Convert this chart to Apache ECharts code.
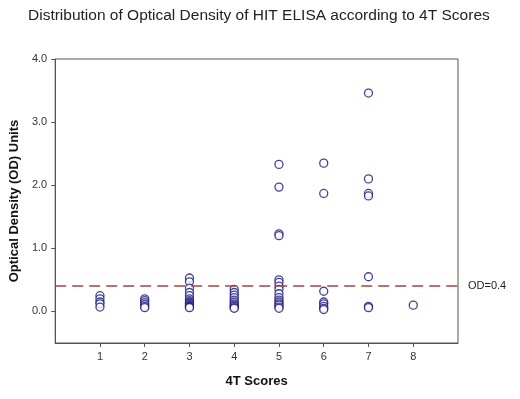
<!DOCTYPE html>
<html>
<head>
<meta charset="utf-8">
<script src="https://cdn.jsdelivr.net/npm/echarts@6/dist/echarts.min.js"></script>
<style>
  html, body { margin: 0; padding: 0; background: #fff; }
  #chart { width: 520px; height: 399px; }
</style>
</head>
<body>
<div id="chart"></div>
<script>
// 4T score groups and the OD values
const scores = [1, 2, 3, 4, 5, 6, 7, 8];
const od1 = [0.25, 0.2, 0.15, 0.12, 0.07];
const od2 = [0.2, 0.17, 0.14, 0.11, 0.08, 0.06];
const od3 = [0.53, 0.47, 0.37, 0.3, 0.25, 0.2, 0.17, 0.15, 0.13, 0.11, 0.09, 0.08, 0.07, 0.06];
const od4 = [0.35, 0.3, 0.26, 0.22, 0.18, 0.15, 0.12, 0.1, 0.08, 0.06, 0.05];
const od5 = [2.33, 1.97, 1.23, 1.2, 0.5, 0.46, 0.4, 0.35, 0.28, 0.22, 0.18, 0.15, 0.12, 0.1, 0.07, 0.05];
const od6 = [2.35, 1.87, 0.32, 0.15, 0.12, 0.08, 0.05, 0.03];
const od7 = [3.46, 2.1, 1.87, 1.83, 0.55, 0.08, 0.06];
const od8 = [0.1];
const yTicks = [0, 1, 2, 3, 4];
const cutoff = 0.4;

const groups = [od1, od2, od3, od4, od5, od6, od7, od8];
const points = [];
groups.forEach((vals, i) => {
  vals.forEach((v) => points.push([scores[i], v]));
});

const font = 'Arial, "Liberation Sans", sans-serif';
const chart = echarts.init(document.getElementById('chart'));

const option = {
  animation: false,
  title: {
    text: 'Distribution of Optical Density of HIT ELISA according to 4T Scores',
    left: 23,
    top: 3,
    textStyle: {
      color: '#222',
      fontFamily: font,
      fontSize: 15.5,
      fontWeight: 'normal',
    },
  },
  grid: {
    left: 53,
    right: 62,
    top: 59,
    bottom: 56,
    show: true,
    borderColor: '#555',
    borderWidth: 1,
  },
  xAxis: {
    type: 'value',
    min: 0,
    max: 9,
    name: '4T Scores',
    nameLocation: 'middle',
    nameGap: 32,
    nameTextStyle: { color: '#111', fontFamily: font, fontSize: 13, fontWeight: 'bold' },
    axisLine: { show: true, onZero: false, lineStyle: { color: '#555' } },
    axisTick: { show: true, customValues: scores, length: 4, lineStyle: { color: '#555' } },
    axisLabel: { customValues: scores, color: '#333', fontFamily: font, fontSize: 11, margin: 8 },
    splitLine: { show: false },
  },
  yAxis: {
    type: 'value',
    min: -0.5,
    max: 4,
    name: 'Optical Density (OD) Units',
    nameLocation: 'middle',
    nameGap: 28,
    nameTextStyle: { color: '#111', fontFamily: font, fontSize: 13, fontWeight: 'bold' },
    axisLine: { show: true, onZero: false, lineStyle: { color: '#555' } },
    axisTick: { show: true, customValues: yTicks, length: 4, lineStyle: { color: '#555' } },
    axisLabel: {
      customValues: yTicks,
      formatter: (v) => v.toFixed(1),
      color: '#333',
      fontFamily: font,
      fontSize: 11,
      margin: 8,
    },
    splitLine: { show: false },
  },
  series: [
    {
      type: 'scatter',
      data: points,
      symbol: 'circle',
      symbolSize: 8,
      itemStyle: {
        color: '#fff',
        borderColor: '#14147a',
        borderWidth: 1.3,
      },
      markLine: {
        silent: true,
        symbol: 'none',
        data: [{ yAxis: cutoff }],
        lineStyle: { color: '#a3443f', type: [11, 6], width: 1.6 },
        label: {
          show: true,
          position: 'end',
          formatter: 'OD=0.4',
          distance: 10,
          color: '#222',
          fontFamily: font,
          fontSize: 11,
        },
      },
    },
  ],
};

chart.setOption(option);
</script>
</body>
</html>
